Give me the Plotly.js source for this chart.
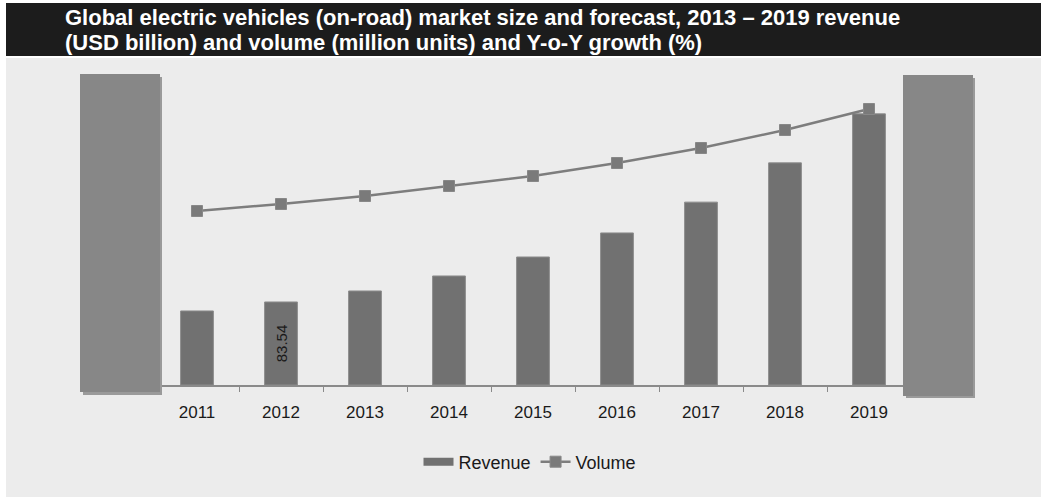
<!DOCTYPE html>
<html>
<head>
<meta charset="utf-8">
<script src="https://cdn.plot.ly/plotly-3.0.1.min.js"></script>
<style>html,body{margin:0;padding:0;background:#fff;}#chart{width:1041px;height:497px;}</style>
</head>
<body>
<div id="chart"></div>
<script>
const years = ['2011','2012','2013','2014','2015','2016','2017','2018','2019'];
const revenue = [74.5, 83.54, 94.6, 109.7, 128.8, 153.0, 184.0, 223.5, 272.8];
const revenueLabels = ['', '83.54', '', '', '', '', '', '', ''];
const volume = [1.74, 1.81, 1.89, 1.99, 2.09, 2.22, 2.37, 2.55, 2.76];
const titleLine1 = 'Global electric vehicles (on-road) market size and forecast, 2013 \u2013 2019 revenue';
const titleLine2 = '(USD billion) and volume (million units) and Y-o-Y growth (%)';

const W = 1041, H = 497;
const mL = 155, mR = 130, mT = 60, mB = 112;
const PW = W - mL - mR, PH = H - mT - mB;
const px = v => (v - mL) / PW;
const py = v => ((H - mB) - v) / PH;
const FONT = 'Liberation Sans, Arial, sans-serif';

const traces = [
  {
    type: 'bar', name: 'Revenue', x: years, y: revenue, showlegend: false,
    text: revenueLabels, textposition: 'inside', textangle: -90,
    insidetextanchor: 'middle', constraintext: 'none',
    textfont: {family: FONT, size: 15, color: '#1a1a1a'},
    width: 0.39,
    marker: {color: '#717171', line: {color: '#8c8c8c', width: 1}}
  },
  {
    type: 'scatter', mode: 'lines', name: 'Revenue', x: [null], y: [null],
    line: {color: '#717171', width: 8}, showlegend: true
  },
  {
    type: 'scatter', mode: 'lines+markers', name: 'Volume', x: years, y: volume,
    yaxis: 'y2',
    line: {color: '#7d7d7d', width: 2.5},
    marker: {symbol: 'square', size: 11, color: '#7a7a7a', line: {color: '#888', width: 1}}
  }
];

const layout = {
  width: W, height: H,
  margin: {l: mL, r: mR, t: mT, b: mB, pad: 0},
  paper_bgcolor: '#ffffff',
  plot_bgcolor: 'rgba(0,0,0,0)',
  font: {family: FONT, color: '#1a1a1a'},
  showlegend: true,
  legend: {
    orientation: 'h', x: px(530), xanchor: 'center',
    y: py(462), yanchor: 'middle',
    font: {size: 18, color: '#1a1a1a'}, bgcolor: 'rgba(0,0,0,0)',
    itemwidth: 30, traceorder: 'normal', tracegroupgap: 0
  },
  xaxis: {
    type: 'category', range: [-0.5, 8.5], fixedrange: true,
    showline: true, linecolor: '#8a8a8a', linewidth: 1.5,
    ticks: 'outside', tickson: 'boundaries', ticklen: 5, tickcolor: '#8a8a8a',
    showgrid: false, zeroline: false,
    tickfont: {size: 17, color: '#1a1a1a'}, ticklabelstandoff: 11
  },
  yaxis: {
    range: [0, 327], visible: false, showgrid: false, zeroline: false, fixedrange: true
  },
  yaxis2: {
    overlaying: 'y', side: 'right', range: [0, 3.25], visible: false,
    showgrid: false, zeroline: false, fixedrange: true
  },
  shapes: [
    {type: 'rect', xref: 'paper', yref: 'paper', layer: 'below',
     x0: px(6), x1: px(W), y0: py(H), y1: py(58),
     fillcolor: '#ececec', line: {width: 0}},
    {type: 'rect', xref: 'paper', yref: 'paper', layer: 'below',
     x0: px(6), x1: px(W), y0: py(56), y1: py(3),
     fillcolor: '#1c1c1c', line: {width: 0}},
    {type: 'rect', xref: 'paper', yref: 'paper', layer: 'above',
     x0: px(83), x1: px(162), y0: py(395), y1: py(77),
     fillcolor: '#9a9a9a', line: {width: 0}},
    {type: 'rect', xref: 'paper', yref: 'paper', layer: 'above',
     x0: px(80), x1: px(160), y0: py(392), y1: py(74),
     fillcolor: '#878787', line: {width: 0}},
    {type: 'rect', xref: 'paper', yref: 'paper', layer: 'above',
     x0: px(906), x1: px(975), y0: py(398), y1: py(78),
     fillcolor: '#9a9a9a', line: {width: 0}},
    {type: 'rect', xref: 'paper', yref: 'paper', layer: 'above',
     x0: px(903), x1: px(973), y0: py(396), y1: py(75),
     fillcolor: '#878787', line: {width: 0}}
  ],
  annotations: [
    {text: '<b>' + titleLine1 + '</b>', xref: 'paper', yref: 'paper', showarrow: false,
     x: px(63), xanchor: 'left', y: py(17.5), yanchor: 'middle',
     font: {size: 22, color: '#ffffff', family: FONT}},
    {text: '<b>' + titleLine2 + '</b>', xref: 'paper', yref: 'paper', showarrow: false,
     x: px(63), xanchor: 'left', y: py(43), yanchor: 'middle',
     font: {size: 22, color: '#ffffff', family: FONT}}
  ]
};

Plotly.newPlot('chart', traces, layout, {staticPlot: true, displayModeBar: false});
</script>
</body>
</html>
